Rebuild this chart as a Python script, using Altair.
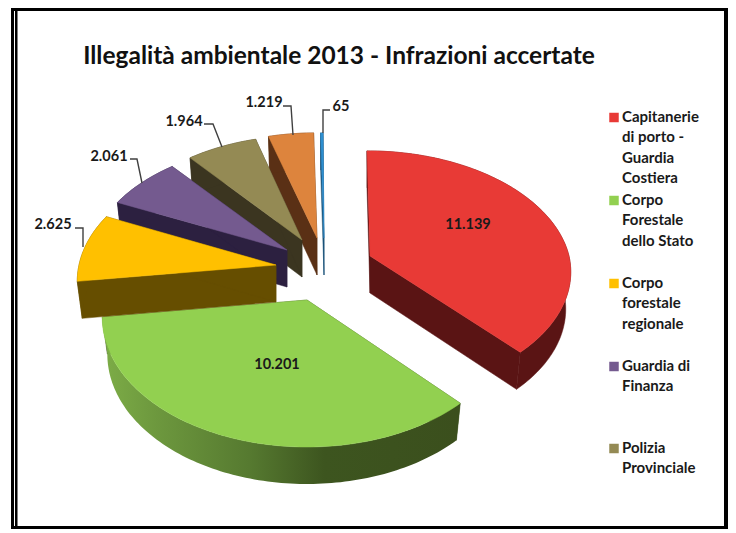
import math
import altair as alt

TITLE = "Illegalità ambientale  2013 - Infrazioni accertate"
CATEGORIES = ["Capitanerie di porto - Guardia Costiera", "Corpo Forestale dello Stato",
              "Corpo forestale regionale", "Guardia di Finanza", "Polizia Provinciale",
              "Altri", "Altri 2"]
VALUES = [11139, 10201, 2625, 2061, 1964, 1219, 65]
VALUE_LABELS = ["11.139", "10.201", "2.625", "2.061", "1.964", "1.219", "65"]
TOP_COLORS = ["#E83A36", "#92D050", "#FFC000", "#745A8F", "#948A54", "#DD843D", "#2E8FD0"]
WALL_COLORS = ["#5A1414", "#3C521E", "#664E00", "#2C2040", "#3B3520", "#5A3015", "#1B5378"]
LEGEND_LINES = ["Capitanerie\ndi porto -\nGuardia\nCostiera", "Corpo\nForestale\ndello Stato",
                "Corpo\nforestale\nregionale", "Guardia di\nFinanza", "Polizia\nProvinciale"]

# --- layout (page pixels) ---
OX, OY = 8, 8
APEX = [(370, 256), (307, 300), (276, 265), (287, 250), (302, 240), (317, 238), (324, 238)]
RADII = [(199, 119), (203, 127.6), (197, 122), (197, 120), (192, 118), (197, 119), (197, 119)]
LEAN = [3, 0, 0, 0, 0, 1, 1]
PERSP = 0.132
DEPTH = 37
BOTTOM_X = 0.975
LABEL_POS = [(468, 225), (277, 365), (53, 225), (109, 157), (184, 122), (264, 103), (341, 107)]
LEADERS = {2: [(75, 228), (83, 228), (83, 247)], 3: [(130, 159), (137, 159), (142, 183)],
           4: [(204, 124), (213, 124), (222, 147)], 5: [(283, 106), (291, 106), (293, 135)],
           6: [(330, 110), (323, 110), (323, 133)]}
LEGEND_Y = [117, 200, 283, 366, 448]
DRAW_ORDER = [6, 5, 4, 3, 1, 2, 0]
GREEN_GRADIENT = alt.LinearGradient(
    gradient="linear", x1=0, x2=1, y1=0, y2=0,
    stops=[alt.GradientStop(color="#7DAD47", offset=0), alt.GradientStop(color="#6D983E", offset=0.15),
           alt.GradientStop(color="#567A30", offset=0.41), alt.GradientStop(color="#3D551F", offset=0.62),
           alt.GradientStop(color="#3B4F1D", offset=1)])
FRAME_L, FRAME_R, FRAME_T, FRAME_B = 11, 728, 8, 529


def P(x, y):
    return [x - OX, y - OY]


def point(i, phi, low):
    ax, ay = APEX[i]
    a, b = RADII[i]
    u, v = math.sin(phi), math.cos(phi)
    s = 1 / (1 + PERSP * v)
    k = BOTTOM_X if low else 1
    return (ax + a * u * s * k - LEAN[i] * max(v, 0), ay - b * v * s + (DEPTH if low else 0))


def arc(i, p0, p1, low):
    n = max(2, int(abs(p1 - p0) / 0.02))
    return [point(i, p0 + (p1 - p0) * j / n, low) for j in range(n + 1)]


def poly(pts):
    ring = [P(*p) for p in pts]
    ring.append(ring[0])
    return {"type": "Feature", "properties": {}, "geometry": {"type": "Polygon", "coordinates": [ring]}}


def line(pts):
    return {"type": "Feature", "properties": {},
            "geometry": {"type": "LineString", "coordinates": [P(*p) for p in pts]}}


def shape(feature, fill, stroke=None):
    mark = alt.Chart(alt.Data(values=[feature])).mark_geoshape(
        fill=fill, stroke=stroke or "transparent", strokeWidth=0.5 if stroke else 0)
    return mark.project(type="identity", scale=1, translate=[0, 0])


total = sum(VALUES)
bounds = [0.0]
for val in VALUES:
    bounds.append(bounds[-1] + val / total * 2 * math.pi)

layers = []
for i in DRAW_ORDER:
    p0, p1 = bounds[i], bounds[i + 1]
    ax, ay = APEX[i]
    wall = WALL_COLORS[i]
    apex_lo = (ax, ay + DEPTH)
    layers.append(shape(poly([(ax, ay), point(i, p0, False), point(i, p0, True), apex_lo]), wall, wall))
    layers.append(shape(poly([(ax, ay), point(i, p1, False), point(i, p1, True), apex_lo]), wall, wall))
    rim = arc(i, p0, p1, False) + arc(i, p1, p0, True)
    if i == 1:
        layers.append(shape(poly(rim), GREEN_GRADIENT))
    else:
        layers.append(shape(poly(rim), wall, wall))
    top = [(ax, ay)] + arc(i, p0, p1, False)
    layers.append(shape(poly(top), TOP_COLORS[i], TOP_COLORS[i]))

# leader lines
for i, pts in LEADERS.items():
    layers.append(alt.Chart(alt.Data(values=[line(pts)])).mark_geoshape(
        filled=False, stroke="#404040", strokeWidth=1.4
    ).project(type="identity", scale=1, translate=[0, 0]))

# frame
for rect in [[(FRAME_L, FRAME_T), (FRAME_R, FRAME_T), (FRAME_R, 11), (FRAME_L, 11)],
             [(FRAME_L, FRAME_T), (14, FRAME_T), (14, FRAME_B), (FRAME_L, FRAME_B)],
             [(15, FRAME_T), (17.5, FRAME_T), (17.5, FRAME_B), (15, FRAME_B)],
             [(724, FRAME_T), (FRAME_R, FRAME_T), (FRAME_R, FRAME_B), (724, FRAME_B)],
             [(FRAME_L, 526), (FRAME_R, 526), (FRAME_R, FRAME_B), (FRAME_L, FRAME_B)]]:
    layers.append(shape(poly(rect), "#000000"))

FONT = "Lato"
X = alt.X("x:Q", scale=None, axis=None)
Y = alt.Y("y:Q", scale=None, axis=None)

value_rows = [{"x": LABEL_POS[i][0] - OX, "y": LABEL_POS[i][1] - OY, "t": VALUE_LABELS[i]} for i in range(7)]
layers.append(alt.Chart(alt.Data(values=value_rows)).mark_text(
    font=FONT, fontSize=14.5, fontWeight="bold", color="#1A1A1A", align="center", baseline="middle"
).encode(x=X, y=Y, text="t:N"))

legend_rows = [{"x": 622 - OX, "y": LEGEND_Y[i] - OY, "t": LEGEND_LINES[i]} for i in range(5)]
layers.append(alt.Chart(alt.Data(values=legend_rows)).mark_text(
    font=FONT, fontSize=15, fontWeight="bold", color="#1A1A1A", align="left", baseline="middle",
    lineBreak="\n", lineHeight=20.4
).encode(x=X, y=Y, text="t:N"))

swatch_rows = [{"x": 614 - OX, "y": LEGEND_Y[i] - OY + 0.5, "c": TOP_COLORS[i]} for i in range(5)]
layers.append(alt.Chart(alt.Data(values=swatch_rows)).mark_square(size=90, opacity=1).encode(
    x=X, y=Y, color=alt.Color("c:N", scale=None)))

layers.append(alt.Chart(alt.Data(values=[{"x": 339 - OX, "y": 57 - OY, "t": TITLE}])).mark_text(
    font=FONT, fontSize=24.5, fontWeight="bold", color="#111111", align="center", baseline="middle"
).encode(x=X, y=Y, text="t:N"))

chart = alt.layer(*layers).properties(
    width=720, height=521, padding=0, autosize=alt.AutoSizeParams(type="none")
).configure_view(stroke=None)

chart.save("out.html", embed_options={"renderer": "svg", "actions": False})
